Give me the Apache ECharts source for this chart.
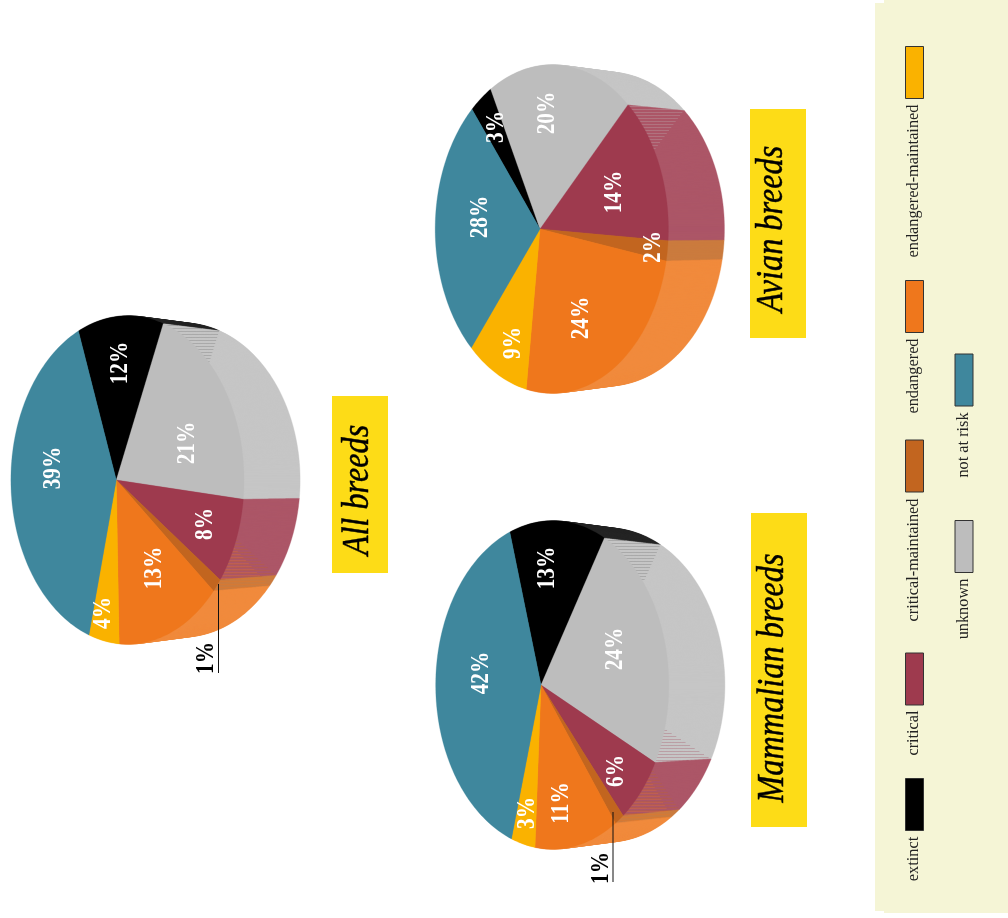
<!DOCTYPE html>
<html><head><meta charset="utf-8">
<style>html,body{margin:0;padding:0;background:#fff}#c{width:1008px;height:918px}</style>
<script src="https://cdn.jsdelivr.net/npm/echarts@6/dist/echarts.min.js"></script>
</head><body><div id="c"></div>
<script>
// ---- data ----
const categories = ['extinct','unknown','critical','critical-maintained','endangered','endangered-maintained','not at risk'];
const allShares = [11.9,20.3,7.8,1.3,13.8,4.3,40.6];
const avianShares = [3.4,19.9,13.5,1.8,24.1,9.0,28.3];
const mammalShares = [13.2,23.4,6.3,1.2,11.2,3.4,41.3];
const allLabels = ['12%','21%','8%','1%','13%','4%','39%'];
const avianLabels = ['3%','20%','14%','2%','24%','9%','28%'];
const mammalLabels = ['13%','24%','6%','1%','11%','3%','42%'];
const titles = ['All breeds','Avian breeds','Mammalian breeds'];

// ---- styling and layout ----
const colors = ['#000000','#bdbdbd','#9e3a4e','#c2651f','#ef771c','#fab200','#3f879d'];
const sideMix = 0.14, depth = 56, backScale = 0.955;
const FONT = '"Liberation Serif"';
const pies = [
 {shares:allShares,labels:allLabels,cx:127.5,cy:480,ax:116.3,start:-109.8,
  spots:[[120.5,363],[188,443],[205.5,524],[207,658],[154.5,568],[104,613],[54,468]],
  leader:[218.5,584,673]},
 {shares:avianShares,labels:avianLabels,cx:551.8,cy:229,ax:540,start:-128.8,
  spots:[[497,127],[548,113],[615,192],[654,247],[581.5,318],[514,343],[481,217]]},
 {shares:mammalShares,labels:mammalLabels,cx:552.3,cy:685,ax:541,start:-106.1,
  spots:[[548,568],[616,649],[617,771],[601.5,868],[561.5,803],[528,813],[481.5,673]],
  leader:[613,812,882]}
];
const RX = 116.6, RY = 164.3;
const titleBoxes = [[332,396,56,177,358,490],[750,109,56,229,772,229],[751,513,56,314,773,678]];
const legendItems = [ // category index, swatch x,y, text centre x,y
 [5,905,46,913.5,181],[4,905,280,913.5,376],[3,905,439.5,913.5,560],[2,905,652.5,913.5,733],[0,905,778,913.5,859],
 [6,954.5,353.5,963.5,445],[1,954.5,520,963.5,609]];

function mix(hex,a){const n=parseInt(hex.slice(1),16);const c=[n>>16,(n>>8)&255,n&255].map(v=>Math.round(v+(255-v)*a));
  return 'rgb('+c.join(',')+')';}
function projector(p){
  const k=(p.ax-p.cx)/RX, s=Math.sqrt(1-k*k);
  return function(u,v,t){const d=1+k*u;
    return [p.cx+RX*(u+k)/d+depth*t, p.cy+RY*(v*s/d)*(1-(1-backScale)*t)];};
}
function edges(p){const tot=p.shares.reduce((a,b)=>a+b,0);let a=p.start;const out=[a];
  p.shares.forEach(v=>{a+=v/tot*360;out.push(a);});return out;}
function slicePts(pr,a0,a1,t){const pts=[pr(0,0,t)];const n=Math.max(2,Math.ceil((a1-a0)/1.5));
  for(let i=0;i<=n;i++){const r=(a0+(a1-a0)*i/n)*Math.PI/180;pts.push(pr(Math.cos(r),Math.sin(r),t));}return pts;}

// hatch left on the side wall where a deeper slice shows through
function hatch(p,pr,e){const out=[];
  for(let b=1;b<e.length-1;b++){
    const r=e[b]*Math.PI/180,c=Math.cos(r),s=Math.sin(r);
    if(c<0.05||Math.abs(s)<0.2)continue;
    const F=pr(c,s,0),B=pr(c,s,1),A=pr(0,0,1);
    let Q=null;
    for(let f=0;f<=1;f+=0.005){const x=B[0]+(A[0]-B[0])*f,y=B[1]+(A[1]-B[1])*f;
      if(((x-p.cx)/RX)**2+((y-p.cy)/RY)**2<=1){Q=[x,y];break;}}
    if(!Q)continue;
    const wallY=F[1]+(B[1]-F[1])*(Q[0]-F[0])/(B[0]-F[0]);
    const deeper=Q[1]>wallY?b-1:b;
    const tri=[F,B,Q],y0=Math.min(F[1],B[1],Q[1]),y1=Math.max(F[1],B[1],Q[1]);
    for(let y=Math.ceil(y0)+1.5;y<y1;y+=3){const xs=[];
      for(let i=0;i<3;i++){const P=tri[i],R=tri[(i+1)%3];
        if((P[1]-y)*(R[1]-y)<=0&&P[1]!==R[1])xs.push(P[0]+(R[0]-P[0])*(y-P[1])/(R[1]-P[1]));}
      if(xs.length>=2)out.push({type:'line',shape:{x1:Math.min(...xs),y1:y,x2:Math.max(...xs),y2:y},
        style:{stroke:colors[deeper],lineWidth:1,opacity:deeper===0?0.14:0.28},z2:5000});}
  }
  return out;}

const layers=[];for(let i=depth;i>=1;i--)layers.push(i);
const series=[];
series.push({type:'custom',coordinateSystem:'none',silent:true,animation:false,z:1,data:[0],
  renderItem(){return {type:'group',children:[
    {type:'rect',shape:{x:875,y:3,width:133,height:908},style:{fill:'#f5f5d6'}},
    {type:'rect',shape:{x:884,y:0,width:124,height:913},style:{fill:'#f5f5d6'}}]};}});
pies.forEach(p=>{
  const pr=projector(p),e=edges(p);
  series.push({type:'custom',coordinateSystem:'none',silent:true,animation:false,z:2,data:layers,
    renderItem(params,api){const t=api.value(0)/depth;
      return {type:'group',children:p.shares.map((v,i)=>({type:'polygon',z2:depth-api.value(0),
        shape:{points:slicePts(pr,e[i],e[i+1],t)},style:{fill:mix(colors[i],sideMix),stroke:mix(colors[i],sideMix),lineWidth:0.4}}))};}});
  series.push({type:'custom',coordinateSystem:'none',silent:true,animation:false,z:3,data:[0],
    renderItem(){return {type:'group',children:hatch(p,pr,e)};}});
  series.push({type:'custom',coordinateSystem:'none',silent:true,animation:false,z:4,name:'slices',
    data:p.shares.map((v,i)=>[v,i]),
    renderItem(params,api){const i=api.value(1);
      return {type:'polygon',shape:{points:slicePts(pr,e[i],e[i+1],0)},style:{fill:colors[i],stroke:colors[i],lineWidth:0.3}};}});
  series.push({type:'custom',coordinateSystem:'none',silent:true,animation:false,z:5,
    data:p.labels.map((l,i)=>[i]),
    renderItem(params,api){const i=api.value(0),sp=p.spots[i],small=p.shares[i]<1.5;
      return {type:'text',x:sp[0],y:sp[1],rotation:Math.PI/2,scaleX:0.85,
        style:{text:p.labels[i],fontFamily:FONT,fontWeight:'bold',fontSize:25,fill:small?'#000':'#fff',align:'center',verticalAlign:'middle'}};}});
  if(p.leader){series.push({type:'custom',coordinateSystem:'none',silent:true,animation:false,z:6,data:[0],
    renderItem(){return {type:'line',shape:{x1:p.leader[0],y1:p.leader[1],x2:p.leader[0],y2:p.leader[2]},style:{stroke:'#111',lineWidth:1}};}});}
});
series.push({type:'custom',coordinateSystem:'none',silent:true,animation:false,z:7,data:titles.map((t,i)=>[i]),
  renderItem(params,api){const i=api.value(0),b=titleBoxes[i];
    return {type:'group',children:[
      {type:'rect',shape:{x:b[0],y:b[1],width:b[2],height:b[3]},style:{fill:'#fddc17'}},
      {type:'text',x:b[4],y:b[5],rotation:Math.PI/2,scaleX:0.85,
       style:{text:titles[i],fontFamily:FONT,fontStyle:'italic',fontWeight:'normal',fontSize:38,fill:'#000',stroke:'#000',lineWidth:0.5,align:'center',verticalAlign:'middle'}}]};}});
series.push({type:'custom',coordinateSystem:'none',silent:true,animation:false,z:8,data:legendItems.map((t,i)=>[i]),
  renderItem(params,api){const it=legendItems[api.value(0)];
    return {type:'group',children:[
      {type:'rect',shape:{x:it[1]+0.5,y:it[2]+0.5,width:18,height:52},style:{fill:colors[it[0]],stroke:'#333',lineWidth:1}},
      {type:'text',x:it[3],y:it[4],rotation:Math.PI/2,
       style:{text:categories[it[0]],fontFamily:FONT,fontSize:16.3,fill:'#222',align:'center',verticalAlign:'middle'}}]};}});

const chart=echarts.init(document.getElementById('c'),null,{renderer:'canvas'});
chart.setOption({backgroundColor:'#fff',animation:false,series});
</script></body></html>
